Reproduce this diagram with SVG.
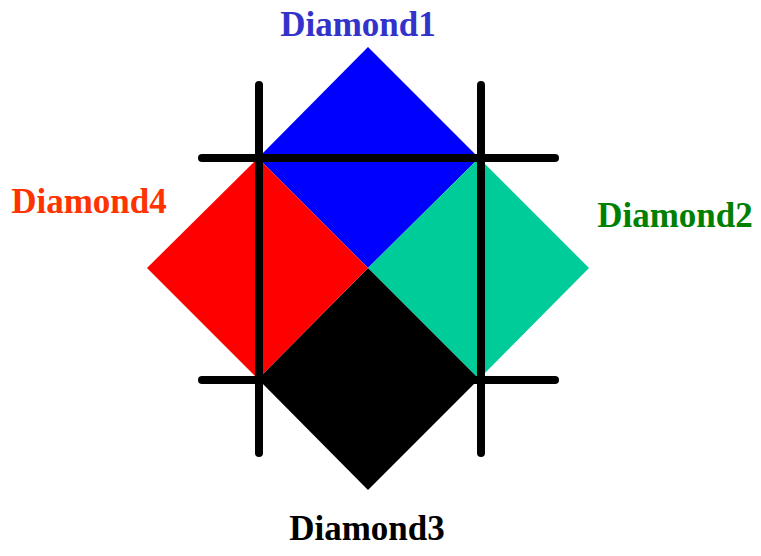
<svg xmlns="http://www.w3.org/2000/svg" width="761" height="556" viewBox="0 0 761 556">
<style>
.lbl{font-family:"Liberation Serif","Times New Roman",serif;font-weight:bold;font-size:35px;text-anchor:middle}
.ln{stroke:#000;stroke-width:8;stroke-linecap:round;fill:none}
</style>
<rect width="761" height="556" fill="#fff"/>
<g id="diamond1"><polygon points="368,47 479,158 368,268 258,158" fill="#0000FF"/><text class="lbl" x="358" y="36" fill="#3333CC">Diamond1</text></g>
<g id="diamond2"><polygon points="479,158 589,268 479,379 368,268" fill="#00CC99"/><text class="lbl" x="675" y="227" fill="#008000">Diamond2</text></g>
<g id="diamond3"><polygon points="368,268 479,379 368,490 258,379" fill="#000000"/><text class="lbl" x="367" y="540" fill="#000000">Diamond3</text></g>
<g id="diamond4"><polygon points="258,158 368,268 258,379 147,268" fill="#FF0000"/><text class="lbl" x="89" y="213" fill="#FF3300">Diamond4</text></g>
<g id="connectors">
<line class="ln" x1="259" y1="85" x2="259" y2="453"/>
<line class="ln" x1="481" y1="85" x2="481" y2="453"/>
<line class="ln" x1="202" y1="158" x2="555" y2="158"/>
<line class="ln" x1="202" y1="380" x2="555" y2="380"/>
</g>
</svg>
